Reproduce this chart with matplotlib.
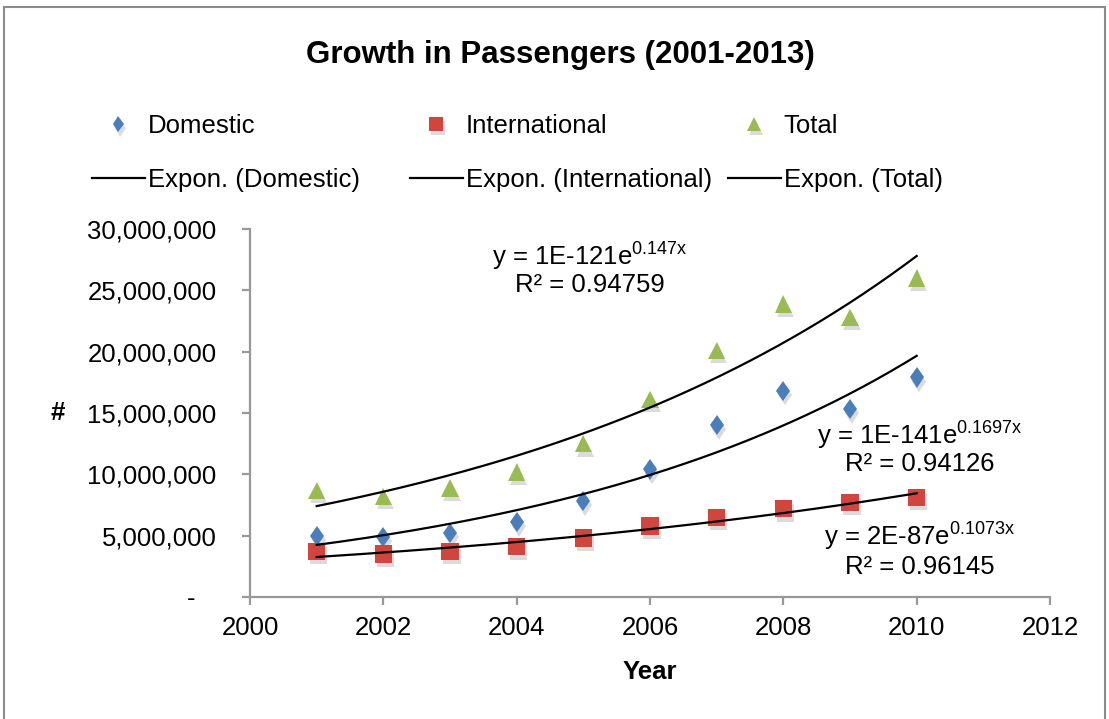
import numpy as np
import matplotlib
matplotlib.use('Agg')
import matplotlib.pyplot as plt
from matplotlib.ticker import FuncFormatter
from matplotlib.patches import Rectangle
import matplotlib.patheffects as pe

plt.rcParams['font.family'] = ['Liberation Sans', 'DejaVu Sans']
plt.rcParams['mathtext.fontset'] = 'custom'
plt.rcParams['mathtext.rm'] = 'Liberation Sans'
plt.rcParams['mathtext.it'] = 'Liberation Sans'

years = [2001, 2002, 2003, 2004, 2005, 2006, 2007, 2008, 2009, 2010]
domestic = [5.0e6, 4.9e6, 5.2e6, 6.1e6, 7.8e6, 10.4e6, 14.0e6, 16.8e6, 15.3e6, 17.9e6]
international = [3.7e6, 3.5e6, 3.7e6, 4.1e6, 4.8e6, 5.8e6, 6.5e6, 7.2e6, 7.7e6, 8.1e6]
total = [8.7e6, 8.2e6, 8.9e6, 10.2e6, 12.5e6, 16.1e6, 20.1e6, 23.9e6, 22.8e6, 26.0e6]

series_names = ['Domestic', 'International', 'Total']
series_vals = [domestic, international, total]
colors = ['#4a7ebb', '#d0463f', '#98bb52']
markers = ['D', 's', '^']
msizes = [9, 12.5, 12.5]

eq_texts = [
    ('y = 1E-141e$^{\\mathrm{0.1697x}}$', 'R² = 0.94126'),
    ('y = 2E-87e$^{\\mathrm{0.1073x}}$', 'R² = 0.96145'),
    ('y = 1E-121e$^{\\mathrm{0.147x}}$', 'R² = 0.94759'),
]

FS = 18.5
W, H = 1109, 719
fig = plt.figure(figsize=(W / 100, H / 100), dpi=100)
ax = fig.add_axes([250 / W, 1 - 597 / H, 800 / W, 368 / H])

shadow = [pe.SimplePatchShadow(offset=(1.5, -3), shadow_rgbFace='#888888', alpha=0.3), pe.Normal()]

x = np.array(years, dtype=float)
xs = np.linspace(2001, 2010, 300)
handles_m = []
handles_l = []
for name, vals, c, m, ms in zip(series_names, series_vals, colors, markers, msizes):
    h, = ax.plot(x, vals, linestyle='none', marker=m, color=c, markersize=ms,
                 markeredgewidth=0, label=name, zorder=3)
    if m == 'D':
        # squeeze the diamond a bit horizontally like Excel's marker
        h.set_marker(matplotlib.markers.MarkerStyle('D', transform=matplotlib.transforms.Affine2D().scale(0.8, 1.15)))
    h.set_path_effects(shadow)
    handles_m.append(h)
    # exponential trendline (least squares on log values, like Excel)
    b, a = np.polyfit(x, np.log(vals), 1)
    l, = ax.plot(xs, np.exp(a + b * xs), color='black', lw=1.6, zorder=4,
                 label='Expon. (%s)' % name)
    handles_l.append(l)

ax.set_xlim(2000, 2012)
ax.set_ylim(0, 30e6)
ax.set_xticks(range(2000, 2013, 2))
ax.set_yticks(np.arange(0, 30e6 + 1, 5e6))
ax.yaxis.set_major_formatter(FuncFormatter(lambda v, p: '-   ' if v == 0 else '{:,.0f}'.format(v)))

for s in ['top', 'right']:
    ax.spines[s].set_visible(False)
for s in ['left', 'bottom']:
    ax.spines[s].set_color('#999999')
    ax.spines[s].set_linewidth(1.6)
ax.tick_params(axis='both', direction='out', length=6, width=1.6, color='#999999', labelsize=FS)
ax.tick_params(axis='y', pad=18)
ax.tick_params(axis='x', pad=8)

# trendline equations
eq_pos = [(920, 436, 464), (920, 537, 567), (590, 257, 285)]
for (eq, r2), (px, py1, py2) in zip(eq_texts, eq_pos):
    fig.text(px / W, 1 - py1 / H, eq, fontsize=FS, ha='center', va='center')
    fig.text(px / W, 1 - py2 / H, r2, fontsize=FS, ha='center', va='center')

fig.text(560 / W, 1 - 55 / H, 'Growth in Passengers (2001-2013)', fontsize=22.5,
         fontweight='bold', ha='center', va='center')
fig.text(650 / W, 1 - 672 / H, 'Year', fontsize=FS, fontweight='bold', ha='center', va='center')
fig.text(58 / W, 1 - 413 / H, '#', fontsize=FS, fontweight='bold', ha='center', va='center')

# legend: three equal-width columns
col_x = [92, 410, 728]
for cx, hm, hl in zip(col_x, handles_m, handles_l):
    fig.legend(handles=[hm, hl], loc='center left', bbox_to_anchor=(cx / W, 1 - 153 / H),
               frameon=False, fontsize=FS, handlelength=2.05, handletextpad=0.12,
               borderpad=0, borderaxespad=0, labelspacing=1.15, markerscale=0.8)

# chart area border
fig.patches.append(Rectangle((4 / W, -0.01), (1105 - 4) / W, 1.01 - 7 / H,
                             transform=fig.transFigure, fill=False,
                             edgecolor='#8c8c8c', lw=1.5))

fig.savefig('out.png', dpi=100)
